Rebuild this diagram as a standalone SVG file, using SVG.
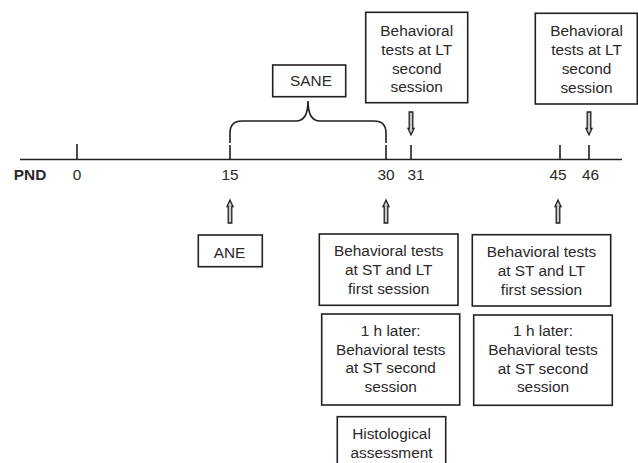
<svg xmlns="http://www.w3.org/2000/svg" width="638" height="463" viewBox="0 0 638 463">
<style>
.bx{fill:#fff;stroke:#231f20;stroke-width:1.6}
.t{font-family:"Liberation Sans",Arial,sans-serif;font-size:15.4px;fill:#2b2829;text-anchor:middle}
.ln{stroke:#231f20;stroke-width:1.6;fill:none}
.ar{fill:#c8c8c8;stroke:#231f20;stroke-width:1.3;stroke-linejoin:miter}
</style>
<rect width="638" height="463" fill="#fff"/>
<g id="connectors">
<line class="ln" x1="20" y1="159.5" x2="622" y2="159.5"/>
<line class="ln" x1="77" y1="144" x2="77" y2="159.5"/>
<line class="ln" x1="230" y1="145" x2="230" y2="159.5"/>
<line class="ln" x1="386" y1="145" x2="386" y2="159.5"/>
<line class="ln" x1="411" y1="145" x2="411" y2="159.5"/>
<line class="ln" x1="560" y1="145" x2="560" y2="159.5"/>
<line class="ln" x1="589" y1="145" x2="589" y2="159.5"/>
<path class="ln" d="M230,143 L230,133 Q230,121 242,121 L296,121 Q308,121 308,101 Q308,121 320,121 L374,121 Q386,121 386,133 L386,143"/>
<path class="ar" d="M230,200 L233,206.5 L231.8,206.5 L231.8,223 L228.2,223 L228.2,206.5 L227,206.5 Z"/>
<path class="ar" d="M386,200 L389,206.5 L387.8,206.5 L387.8,223 L384.2,223 L384.2,206.5 L383,206.5 Z"/>
<path class="ar" d="M558,200 L561,206.5 L559.8,206.5 L559.8,223 L556.2,223 L556.2,206.5 L555,206.5 Z"/>
<path class="ar" d="M411,135 L414,128.5 L412.8,128.5 L412.8,112 L409.2,112 L409.2,128.5 L408,128.5 Z"/>
<path class="ar" d="M589,135 L592,128.5 L590.8,128.5 L590.8,112 L587.2,112 L587.2,128.5 L586,128.5 Z"/>
</g>
<g id="axis-labels">
<text class="t" x="30" y="180" style="font-weight:bold">PND</text>
<text class="t" x="77" y="180">0</text>
<text class="t" x="230" y="180">15</text>
<text class="t" x="386" y="180">30</text>
<text class="t" x="416" y="180">31</text>
<text class="t" x="558" y="180">45</text>
<text class="t" x="590.5" y="180">46</text>
</g>
<g id="sane">
<rect class="bx" x="272.7" y="65" width="73" height="31.7"/>
<text class="t" x="311" y="86">SANE</text>
</g>
<g id="ane">
<rect class="bx" x="198.3" y="235" width="64" height="31.7"/>
<text class="t" x="229.5" y="257.5">ANE</text>
</g>
<g id="lt31">
<rect class="bx" x="365.7" y="12.3" width="102" height="90.4"/>
<text class="t" x="416.7" y="35.5">Behavioral</text>
<text class="t" x="416.7" y="54.5">tests at LT</text>
<text class="t" x="416.7" y="73.5">second</text>
<text class="t" x="416.7" y="92">session</text>
</g>
<g id="lt46">
<rect class="bx" x="535.3" y="13.3" width="102" height="90.7"/>
<text class="t" x="586.5" y="36">Behavioral</text>
<text class="t" x="586.5" y="55">tests at LT</text>
<text class="t" x="586.5" y="74">second</text>
<text class="t" x="586.5" y="92.5">session</text>
</g>
<g id="st30first">
<rect class="bx" x="319.3" y="234" width="138.7" height="71.3"/>
<text class="t" x="388.7" y="256">Behavioral tests</text>
<text class="t" x="388.7" y="275">at ST and LT</text>
<text class="t" x="388.7" y="294">first session</text>
</g>
<g id="st45first">
<rect class="bx" x="472.3" y="234.7" width="138.4" height="71.3"/>
<text class="t" x="541.5" y="256.5">Behavioral tests</text>
<text class="t" x="541.5" y="275.5">at ST and LT</text>
<text class="t" x="541.5" y="294.5">first session</text>
</g>
<g id="st30second">
<rect class="bx" x="321.7" y="314" width="138" height="91"/>
<text class="t" x="390.7" y="335.5">1 h later:</text>
<text class="t" x="390.7" y="354.5">Behavioral tests</text>
<text class="t" x="390.7" y="373">at ST second</text>
<text class="t" x="390.7" y="391.5">session</text>
</g>
<g id="st45second">
<rect class="bx" x="473.7" y="315" width="138.6" height="90.3"/>
<text class="t" x="543" y="336">1 h later:</text>
<text class="t" x="543" y="355">Behavioral tests</text>
<text class="t" x="543" y="373.5">at ST second</text>
<text class="t" x="543" y="392">session</text>
</g>
<g id="histology">
<rect class="bx" x="337.3" y="416.7" width="108.4" height="60"/>
<text class="t" x="391.5" y="439">Histological</text>
<text class="t" x="391.5" y="458">assessment</text>
</g>
</svg>
